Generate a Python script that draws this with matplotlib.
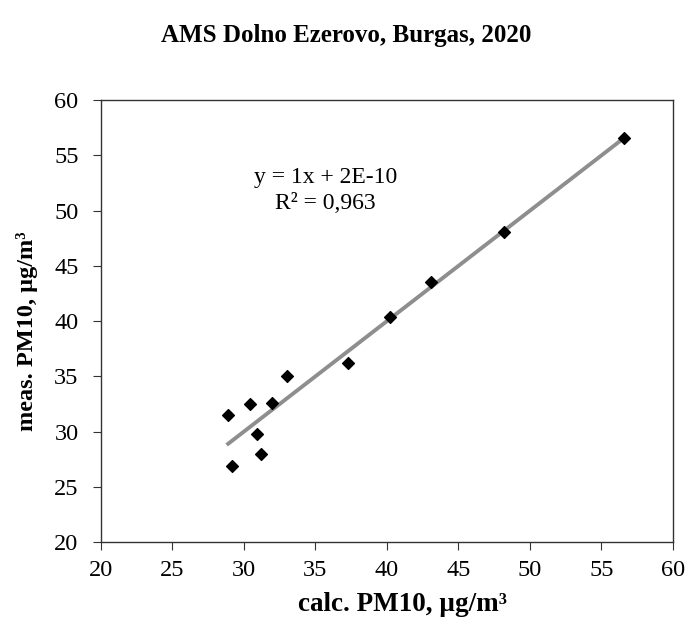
import matplotlib.pyplot as plt
import numpy as np

# calculated vs measured PM10, AMS Dolno Ezerovo, 2020
calc_pm10 = [28.9, 29.2, 30.4, 30.9, 31.2, 32.0, 33.0, 37.3, 40.2, 43.1, 48.2, 56.6]
meas_pm10 = [31.5, 26.9, 32.5, 29.8, 28.0, 32.6, 35.0, 36.2, 40.4, 43.5, 48.1, 56.6]

# trendline as reported
slope = 1.0
intercept = 2e-10
r_squared = 0.963

x_ticks = [20, 25, 30, 35, 40, 45, 50, 55, 60]
y_ticks = [20, 25, 30, 35, 40, 45, 50, 55, 60]

plt.rcParams['font.family'] = ['Liberation Serif', 'DejaVu Serif']

fig = plt.figure(figsize=(6.86, 6.26), dpi=100)
ax = fig.add_axes([0.147, 0.134, 0.834, 0.706])

x = np.array(calc_pm10)
xl = np.array([x.min(), x.max()])
ax.plot(xl, slope * xl + intercept, color='#8e8e8e', lw=2.8, zorder=1)
ax.scatter(calc_pm10, meas_pm10, marker='D', s=36, color='black', zorder=2)

ax.set_xlim(20, 60)
ax.set_ylim(20, 60)
ax.set_xticks(x_ticks)
ax.set_yticks(y_ticks)
ax.tick_params(labelsize=17.5, direction='out', length=6, color='#333333')
ax.tick_params(axis='x', pad=7)
ax.tick_params(axis='y', pad=10)
for s in ax.spines.values():
    s.set_color('#333333')
    s.set_linewidth(1.0)

ax.text(0.393, 0.826, f'y = {slope:.0f}x + 2E-10', transform=ax.transAxes,
        ha='center', va='center', fontsize=17)
ax.text(0.393, 0.767, 'R² = ' + f'{r_squared:.3f}'.replace('.', ','),
        transform=ax.transAxes, ha='center', va='center', fontsize=17)

fig.text(0.587, 0.035, 'calc. PM10, µg/m³', ha='center', va='center',
         fontsize=19.5, fontweight='bold')
fig.text(0.039, 0.471, 'meas. PM10, µg/m³', ha='center', va='center',
         rotation=90, fontsize=17.5, fontweight='bold')
fig.text(0.504, 0.944, 'AMS Dolno Ezerovo, Burgas, 2020', ha='center', va='center',
         fontsize=18, fontweight='bold')

fig.savefig('out.png', dpi=100)
